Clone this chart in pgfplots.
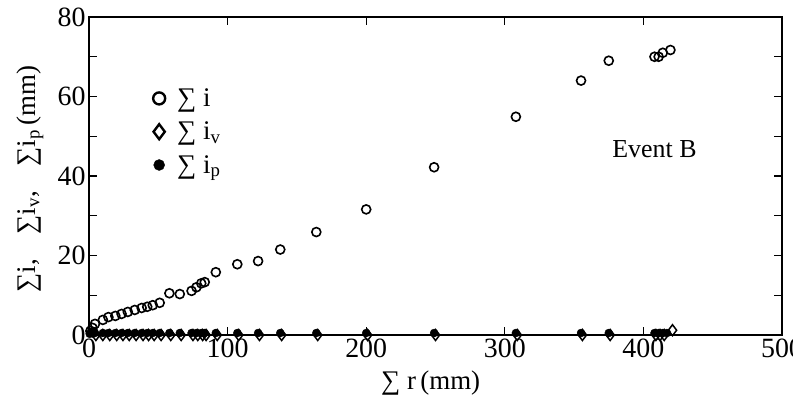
\documentclass[border=0pt]{standalone}
\usepackage{pgfplots}
\pgfplotsset{compat=1.18}
\usepackage{fontspec}
\setmainfont{Liberation Serif}

% cumulative i against cumulative r (mm)
\pgfplotstableread{
r i
1 1.0
2.5 1.8
4.3 2.8
10 3.8
14 4.5
19 4.8
23.5 5.3
28 5.8
33 6.3
38 6.8
42 7.1
46 7.5
51 8.1
58 10.5
65.5 10.3
74 11.1
77.5 12.0
81 13.0
83.5 13.3
91.5 15.8
107 17.8
122 18.6
138 21.5
164 25.9
200 31.6
249 42.2
308 54.9
355 64.0
375 69.0
408 70.0
411 70.0
414 71.0
419.5 71.7
}\tabI

\pgfplotstableread{
r iv
5 0
10 0
15 0
20 0
24.5 0
29 0
34 0
39 0
43 0
47 0
52 0
59 0
66.5 0
75 0
78.5 0
82 0
84.5 0
92.5 0
108 0
123 0
139 0
165 0
201 0
250 0
309 0
356 0
376 0
409 0
412 0
415 0
421 1.2
}\tabIv

\pgfplotstableread{
r ip
0.5 0.3
1.5 0.8
2.5 0.4
3.5 1.0
4.3 0.5
10 0.5
14 0.5
19 0.5
23.5 0.5
28 0.5
33 0.5
38 0.5
42 0.5
46 0.5
51 0.5
58 0.5
65.5 0.5
74 0.5
77.5 0.5
81 0.5
83.5 0.5
91.5 0.5
107 0.5
122 0.5
138 0.5
164 0.5
200 0.5
249 0.5
308 0.5
355 0.5
375 0.5
408 0.5
411 0.5
414 0.5
417 0.5
}\tabIp

\begin{document}
\begin{tikzpicture}
\useasboundingbox (0,0) rectangle (793bp,406bp);
\begin{axis}[
  at={(89bp,71bp)},anchor=south west,
  width=693bp,height=318bp,scale only axis,
  xmin=0,xmax=500,ymin=0,ymax=80,
  xtick={0,100,...,500},ytick={0,20,...,80},
  minor y tick num=1,
  tick align=inside,
  major tick length=8bp,minor tick length=8bp,
  every tick/.style={black,line width=1.2bp},
  axis line style={line width=1.3bp},
  clip=false,
  /pgf/number format/assume math mode=true,
  tick label style={font=\fontsize{28}{32}\selectfont},
  xlabel={∑ r\,(mm)},
  ylabel={∑i,\enspace\, ∑i\textsubscript{v},\enspace\, ∑i\textsubscript{p}\,(mm)},
  label style={font=\fontsize{27}{30}\selectfont},
  xlabel style={at={(axis description cs:0.493,-0.15)},anchor=center},
  ylabel style={at={(axis description cs:-0.085,0.49)},anchor=center},
  legend style={at={(axis cs:44,63)},anchor=north west,draw=none,fill=none,
    font=\fontsize{27}{30}\selectfont,row sep=10bp,
    legend cell align=left},
]
\addplot[only marks,mark=o,mark size=4.5bp,line width=1.6bp,black,
  legend image post style={mark size=6bp,line width=2.4bp}] table[x=r,y=i] {\tabI};
\addlegendentry{\hspace{10bp}∑ i}
\addplot[only marks,mark=diamond,mark size=5.5bp,line width=1.5bp,black,
  legend image post style={mark size=7.5bp,line width=2.4bp}] table[x=r,y=iv] {\tabIv};
\addlegendentry{\hspace{10bp}∑ i\textsubscript{v}}
\addplot[only marks,mark=*,mark size=4bp,black,
  legend image post style={mark size=5.5bp}] table[x=r,y=ip] {\tabIp};
\addlegendentry{\hspace{10bp}∑ i\textsubscript{p}}
\node[font=\fontsize{26}{30}\selectfont] at (axis cs:408,46.8) {Event B};
\end{axis}
\end{tikzpicture}
\end{document}
